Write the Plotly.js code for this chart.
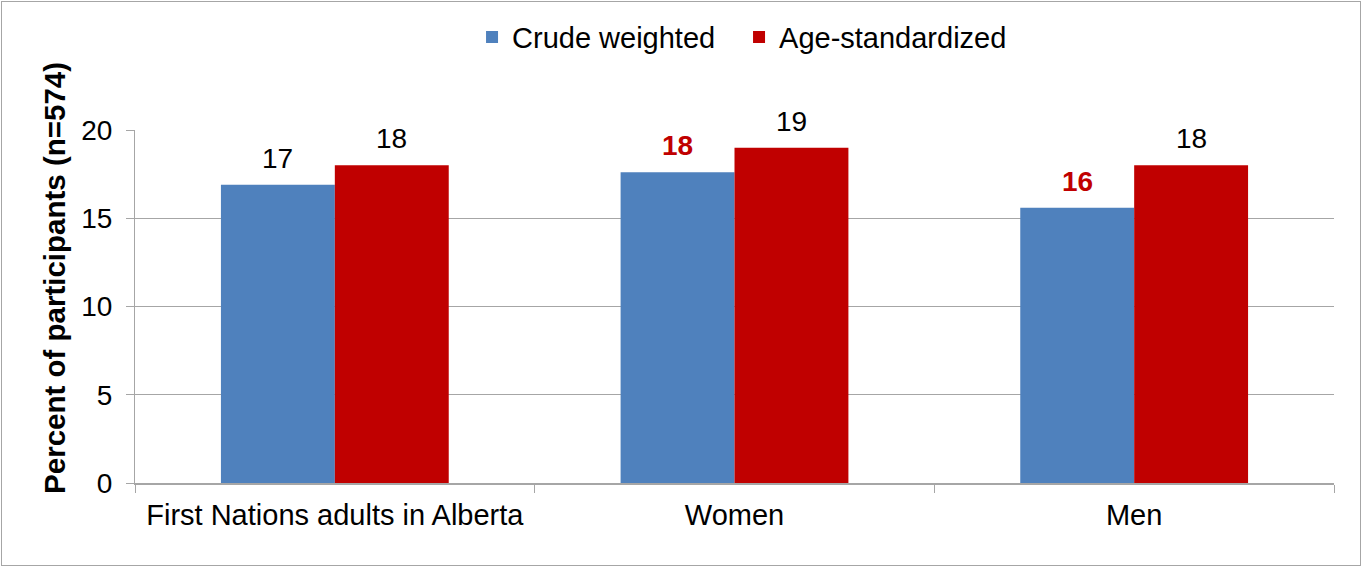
<!DOCTYPE html>
<html>
<head>
<meta charset="utf-8">
<script src="https://cdn.plot.ly/plotly-3.0.1.min.js"></script>
<style>
html,body{margin:0;padding:0;background:#fff;}
#frame{position:absolute;left:1px;top:1px;width:1358px;height:563px;border:1px solid #a6a6a6;}
#chart{position:absolute;left:0;top:0;width:1362px;height:567px;}
</style>
</head>
<body>
<div id="frame"></div>
<div id="chart"></div>
<script>
const categories = ["First Nations adults in Alberta", "Women", "Men"];
const crudeWeighted = [16.9, 17.6, 15.6];
const ageStandardized = [18.0, 19.0, 18.0];
const crudeLabels = ["17", "<b>18</b>", "<b>16</b>"];
const ageLabels = ["18", "19", "18"];
const crudeLabelColors = ["#000000", "#c00000", "#c00000"];
const ageLabelColors = ["#000000", "#000000", "#000000"];
const yTicks = [0, 5, 10, 15, 20];
const yTitle = "<b>Percent of participants (n=574)</b>";

const font = "Liberation Sans, Arial, sans-serif";
const BAR_HALF = 57;

const traces = [
  {
    type: "bar", name: "Crude weighted", x: categories, y: crudeWeighted,
    marker: {color: "#4f81bd"}, hoverinfo: "none"
  },
  {
    type: "bar", name: "Age-standardized", x: categories, y: ageStandardized,
    marker: {color: "#c00000"}, hoverinfo: "none"
  }
];

const annotations = [];
categories.forEach((c, i) => {
  annotations.push({x: c, y: crudeWeighted[i], xref: "x", yref: "y", text: crudeLabels[i],
    showarrow: false, xanchor: "center", yanchor: "bottom", xshift: -BAR_HALF, yshift: 9,
    font: {family: font, size: 28, color: crudeLabelColors[i]}});
  annotations.push({x: c, y: ageStandardized[i], xref: "x", yref: "y", text: ageLabels[i],
    showarrow: false, xanchor: "center", yanchor: "bottom", xshift: BAR_HALF, yshift: 9,
    font: {family: font, size: 28, color: ageLabelColors[i]}});
});
annotations.push({x: -0.0667, y: 0.581, xref: "paper", yref: "paper", text: yTitle,
  textangle: -90, showarrow: false, xanchor: "center", yanchor: "middle",
  font: {family: font, size: 29.5, color: "#000"}});

const layout = {
  width: 1362, height: 567,
  paper_bgcolor: "rgba(0,0,0,0)", plot_bgcolor: "rgba(0,0,0,0)",
  margin: {l: 135, r: 28, t: 130, b: 84},
  font: {family: font, size: 28, color: "#000"},
  barmode: "group", bargap: 0.43, bargroupgap: 0,
  showlegend: true,
  legend: {orientation: "h", x: 0.2811, xanchor: "left", y: 1.263, yanchor: "middle",
           font: {family: font, size: 29, color: "#000"}, itemwidth: 30, traceorder: "normal",
           entrywidth: 222},
  annotations: annotations,
  xaxis: {
    type: "category", tickson: "boundaries", ticks: "outside", ticklen: 8,
    tickcolor: "#a6a6a6", showline: true, linecolor: "#a6a6a6", linewidth: 1.5,
    showgrid: false, ticklabelstandoff: 6,
    tickfont: {family: font, size: 29, color: "#000"}
  },
  yaxis: {
    range: [0, 20], tickvals: yTicks, ticks: "outside", ticklen: 8,
    tickcolor: "#a6a6a6", showline: true, linecolor: "#a6a6a6", linewidth: 1,
    showgrid: true, gridcolor: "#a6a6a6", gridwidth: 1, zeroline: false,
    ticklabelstandoff: 8,
    tickfont: {family: font, size: 28, color: "#000"}
  }
};

Plotly.newPlot("chart", traces, layout, {displayModeBar: false, staticPlot: true});
</script>
</body>
</html>
